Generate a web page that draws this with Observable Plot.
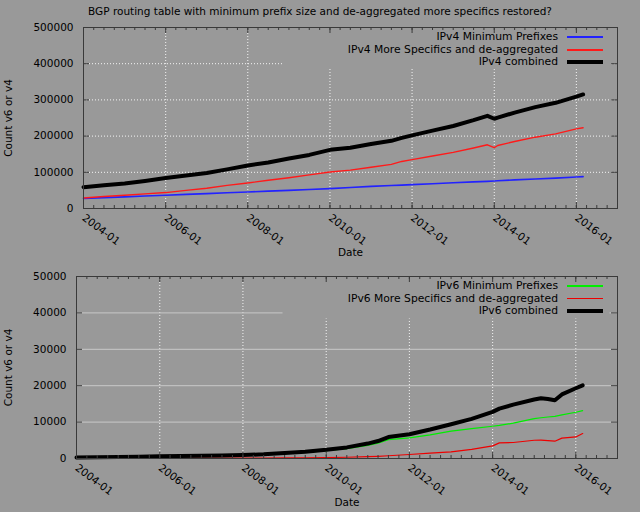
<!DOCTYPE html>
<html><head><meta charset="utf-8">
<script src="https://cdn.jsdelivr.net/npm/d3@7"></script>
<script src="https://cdn.jsdelivr.net/npm/@observablehq/plot@0.6"></script>
<style>
html,body{margin:0;padding:0;background:#999999;}
#wrap{position:relative;width:640px;height:512px;background:#999999;font-family:"DejaVu Sans",sans-serif;font-size:10.5px;color:#000;overflow:hidden;}
#title{position:absolute;left:0;top:4px;width:640px;text-align:center;line-height:14px;}
.p{position:absolute;left:0;}
.lg{position:absolute;left:0;width:640px;height:12px;font-size:10.75px;}
.lg span.t{position:absolute;right:82px;top:0;line-height:12px;white-space:nowrap;}
.lg span.b{position:absolute;left:567px;width:36px;}
</style></head><body><div id="wrap"><div id="title">BGP routing table with minimum prefix size and de-aggregated more specifics restored?</div></div>
<script>
// ---- data ----
const dates4 = ["2004-01","2004-07","2005-01","2005-07","2006-01","2006-07","2007-01","2007-07","2008-01","2008-07","2009-01","2009-07","2010-01","2010-07","2011-01","2011-07","2011-10","2012-01","2012-07","2013-01","2013-07","2013-11","2014-01","2014-02","2014-07","2015-01","2015-07","2016-01","2016-03"];
const v4Min  = [27500,30000,32000,34500,36600,39000,41000,43500,45700,48000,50000,52500,55000,58000,61000,63500,64500,66000,68500,71000,73500,75000,76000,76500,79000,81500,84000,87000,88000];
const v4More = [29000,33000,36500,40500,44000,50000,56000,64000,70500,78000,85000,93000,101000,106000,114000,122000,130000,135000,145000,155000,167000,176000,168000,174000,185000,197000,206000,220000,223000];
const v4Comb = [59000,64000,69000,76000,84000,91000,98000,108000,119000,127000,138000,148000,162000,168000,178000,187000,195000,202000,215000,228000,244000,256000,248000,251000,265000,280000,292000,309000,315000];

const dates6 = ["2004-01","2004-07","2005-01","2005-07","2006-01","2006-07","2007-01","2007-07","2008-01","2008-07","2009-01","2009-07","2010-01","2010-07","2011-01","2011-04","2011-07","2012-01","2012-07","2013-01","2013-07","2014-01","2014-03","2014-07","2015-01","2015-03","2015-05","2015-07","2015-09","2016-01","2016-03"];
const v6Min  = [250,300,380,450,550,600,650,720,850,1050,1350,1700,2150,2700,3600,4200,5200,5650,6500,7500,8200,8860,9100,9700,10970,11200,11400,11550,12000,12700,13160];
const v6More = [20,30,40,50,60,70,80,90,100,120,150,180,250,350,500,600,750,1100,1450,1800,2500,3460,4300,4400,5020,5050,4900,4750,5600,5930,6850];
const v6Comb = [270,330,420,500,600,680,730,800,950,1150,1500,1880,2400,3050,4100,4800,5900,6650,7950,9400,10900,12800,13700,14800,16200,16550,16350,16000,17600,19300,20100];

const xTickLabels = ["2004-01","2006-01","2008-01","2010-01","2012-01","2014-01","2016-01"];
const xDomainLabels = ["2004-01","2017-01"];
const yTicks4 = [0,100000,200000,300000,400000,500000];
const yTicks6 = [0,10000,20000,30000,40000,50000];

const legend4 = ["IPv4 Minimum Prefixes","IPv4 More Specifics and de-aggregated","IPv4 combined"];
const legend6 = ["IPv6 Minimum Prefixes","IPv6 More Specifics and de-aggregated","IPv6 combined"];

// ---- build ----
const parse = d3.utcParse("%Y-%m");
const fmt = d3.utcFormat("%Y-%m");
const bg = "#999999";
const xDomain = xDomainLabels.map(parse);
const xMajor = xTickLabels.map(parse);
const xMinor = d3.utcMonth.every(3).range(xDomain[0], d3.utcDay.offset(xDomain[1], 1));
const rows = (dates, vals) => dates.map((d, i) => ({date: parse(d), value: vals[i]}));

function panel({width, height, mL, mR, mT, mB, yTicks, series, hGrid, coverLeft, coverBottom, labelOffsetY}) {
  const pw = width - mL - mR, ph = height - mT - mB;
  const yMax = yTicks[yTicks.length - 1];
  const borderColor = "#3a3a3a";
  return Plot.plot({
    width, height, marginLeft: mL, marginRight: mR, marginTop: mT, marginBottom: mB,
    style: {background: "transparent", fontFamily: "DejaVu Sans, sans-serif", fontSize: "10.5px", color: "#000", overflow: "visible"},
    x: {type: "utc", domain: xDomain},
    y: {domain: [0, yMax]},
    marks: [
      Plot.gridX(xMajor.slice(1), {stroke: "#ffffff", strokeOpacity: 0.9, strokeDasharray: "1,2", strokeWidth: 1}),
      Plot.gridY(yTicks.slice(1, -1), hGrid),
      Plot.frame({fill: bg, stroke: null, insetLeft: coverLeft, insetBottom: coverBottom, insetRight: 8}),
      ...series.map(s => Plot.lineY(s.data, {x: "date", y: "value", stroke: s.color, strokeWidth: s.width, strokeLinejoin: "round"})),
      Plot.frame({stroke: borderColor, strokeWidth: 1}),
      // inward ticks on all four sides
      Plot.tickX(xMinor, {x: d => d, stroke: borderColor, insetTop: ph - 3}),
      Plot.tickX(xMinor, {x: d => d, stroke: borderColor, insetBottom: ph - 3}),
      Plot.tickX(xMajor, {x: d => d, stroke: borderColor, insetTop: ph - 6}),
      Plot.tickX(xMajor, {x: d => d, stroke: borderColor, insetBottom: ph - 6}),
      Plot.tickY(yTicks, {y: d => d, stroke: borderColor, insetRight: pw - 6}),
      Plot.tickY(yTicks, {y: d => d, stroke: borderColor, insetLeft: pw - 6}),
      Plot.axisX(xMajor, {tickSize: 0, tickPadding: 8, tickRotate: 37, tickFormat: fmt, label: "Date", labelAnchor: "center", labelArrow: "none", labelOffset: 47}),
      Plot.axisY(yTicks, {tickSize: 0, tickPadding: 10, tickFormat: d => String(d), label: "Count v6 or v4", labelAnchor: "center", labelArrow: "none", labelOffset: labelOffsetY})
    ]
  });
}

const wrap = document.getElementById("wrap");

const top4 = panel({
  width: 640, height: 262, mL: 83, mR: 23, mT: 27, mB: 54, yTicks: yTicks4,
  hGrid: {stroke: "#ffffff", strokeOpacity: 0.9, strokeDasharray: "1,2", strokeWidth: 1},
  coverLeft: 199, coverBottom: 140, labelOffsetY: 79,
  series: [
    {data: rows(dates4, v4Min), color: "#2222ff", width: 1.6},
    {data: rows(dates4, v4More), color: "#ff1a1a", width: 1.4},
    {data: rows(dates4, v4Comb), color: "#000000", width: 4}
  ]
});
top4.classList.add("p"); top4.style.top = "0px";
wrap.appendChild(top4);

const bot6 = panel({
  width: 640, height: 250, mL: 76, mR: 23, mT: 14, mB: 54, yTicks: yTicks6,
  hGrid: {stroke: "#c8c8c8", strokeOpacity: 1, strokeWidth: 1},
  coverLeft: 206, coverBottom: 140, labelOffsetY: 72,
  series: [
    {data: rows(dates6, v6Min), color: "#00ee00", width: 1.2},
    {data: rows(dates6, v6More), color: "#ee0000", width: 1.2},
    {data: rows(dates6, v6Comb), color: "#000000", width: 4}
  ]
});
bot6.classList.add("p"); bot6.style.top = "262px";
wrap.appendChild(bot6);

// legends (HTML overlay)
function legend(labels, colors, widths, tops) {
  labels.forEach((lab, i) => {
    const row = document.createElement("div");
    row.className = "lg";
    row.style.top = (tops[i] - 6) + "px";
    const t = document.createElement("span"); t.className = "t"; t.textContent = lab;
    const b = document.createElement("span"); b.className = "b";
    b.style.background = colors[i]; b.style.height = widths[i] + "px"; b.style.top = (6 - widths[i] / 2) + "px";
    row.appendChild(t); row.appendChild(b); wrap.appendChild(row);
  });
}
legend(legend4, ["#2222ff", "#ff1a1a", "#000"], [2, 2, 4], [37, 49.5, 61.5]);
legend(legend6, ["#00ee00", "#ee0000", "#000"], [1.5, 1.5, 4], [286, 298.5, 311]);
</script></body></html>
